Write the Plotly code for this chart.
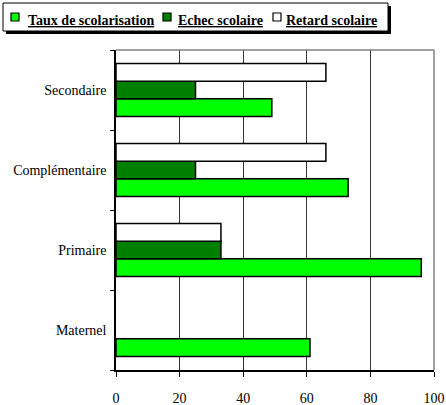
import plotly.graph_objects as go

# Data
categories = ["Maternel", "Primaire", "Complémentaire", "Secondaire"]
series_names = ["Taux de scolarisation", "Echec scolaire", "Retard scolaire"]
taux = [61, 96, 73, 49]
echec = [None, 33, 25, 25]
retard = [None, 33, 66, 66]
x_ticks = [0, 20, 40, 60, 80, 100]
colors = ["#00FF00", "#008000", "#FFFFFF"]

W, H = 446, 405
ML, MR, MT, MB = 116, 12, 50, 35
PW, PH = W - ML - MR, H - MT - MB


def px(x):
    return (x - ML) / PW


def py(y):
    return (H - MB - y) / PH


FONT = "Liberation Serif"

fig = go.Figure()
for name, vals, col in zip(series_names, [taux, echec, retard], colors):
    fig.add_trace(go.Bar(
        y=categories, x=vals, name=name, orientation="h",
        marker=dict(color=col, line=dict(color="black", width=1.5)),
        showlegend=False,
    ))

# Legend box with drop shadow
shapes = [
    dict(type="rect", xref="paper", yref="paper", x0=px(6), x1=px(391), y0=py(6), y1=py(34),
         fillcolor="black", line=dict(width=0), layer="above"),
    dict(type="rect", xref="paper", yref="paper", x0=px(3), x1=px(388), y0=py(3), y1=py(31),
         fillcolor="white", line=dict(color="black", width=1), layer="above"),
    # top and right frame of the plot area
    dict(type="line", xref="paper", yref="paper", x0=0, x1=1, y0=1, y1=1,
         line=dict(color="#808080", width=1.5)),
    dict(type="line", xref="paper", yref="paper", x0=1, x1=1, y0=0, y1=1,
         line=dict(color="#808080", width=1.5)),
]
annotations = []
sym_x = [11, 163, 273]
txt_x = [26, 176, 284]
for name, col, sx, tx in zip(series_names, colors, sym_x, txt_x):
    shapes.append(dict(type="rect", xref="paper", yref="paper",
                       x0=px(sx), x1=px(sx + 8), y0=py(13), y1=py(21),
                       fillcolor=col, line=dict(color="black", width=1.2), layer="above"))
    annotations.append(dict(xref="paper", yref="paper", x=px(tx), y=py(20),
                            xanchor="left", yanchor="middle", showarrow=False,
                            text=f"<b><u>{name}</u></b>",
                            font=dict(family=FONT, size=14, color="black")))

fig.update_layout(
    width=W, height=H,
    margin=dict(l=ML, r=MR, t=MT, b=MB, pad=0),
    paper_bgcolor="white", plot_bgcolor="white",
    barmode="group", bargap=0.34, bargroupgap=0,
    font=dict(family=FONT, size=14, color="black"),
    shapes=shapes, annotations=annotations,
    xaxis=dict(range=[0, 100], tickvals=x_ticks, showgrid=True, gridcolor="#333333",
               gridwidth=1, showline=True, linecolor="black", linewidth=1.5,
               ticks="outside", ticklen=5, tickcolor="black", zeroline=False,
               automargin=False, ticklabelstandoff=9,
               tickfont=dict(family=FONT, size=14)),
    yaxis=dict(categoryorder="array", categoryarray=categories, showgrid=False,
               showline=True, linecolor="black", linewidth=1.5, ticks="outside",
               tickson="boundaries", ticklen=4, tickcolor="black", automargin=False,
               ticklabelstandoff=5, tickfont=dict(family=FONT, size=14)),
)

fig.write_html("out.html")
